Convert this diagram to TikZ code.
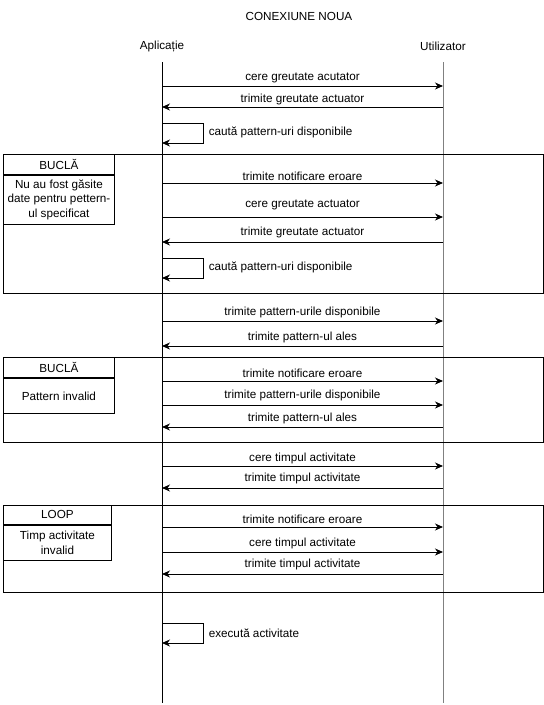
\documentclass[tikz,border=0pt]{standalone}
\usepackage{fontspec}
\setmainfont{Liberation Sans}
\usetikzlibrary{arrows.meta,positioning}

\begin{document}
\begin{tikzpicture}[x=1pt, y=-1pt, line width=0.9pt, font=\fontsize{11.7}{13.5}\selectfont]
      \tikzstyle{msg} = [-{Stealth[length=8pt, width=7pt, inset=2.5pt]}]
      \tikzstyle{tag} = [rectangle, draw, anchor=north west, inner sep=0pt, minimum width=111pt, minimum height=20pt]
      \tikzstyle{cond} = [rectangle, draw, anchor=north west, inner sep=0pt, minimum width=111pt, minimum height=35pt, align=center, font=\fontsize{11.7}{14.5}\selectfont]

      \useasboundingbox (0,0) rectangle (544,705);

      \node (title) at (299,16) {CONEXIUNE NOUA};
      \node (app) at (162,46) {Aplicație};
      \node (user) at (443,46) {Utilizator};
      \draw (app |- 0,62) -- (app |- 0,703);
      \draw[gray] (user |- 0,62) -- (user |- 0,703);

      \draw[msg] (app |- 0,86) -- (user |- 0,86) node[midway, above, yshift=-1pt] {cere greutate acutator};
      \draw[msg] (user |- 0,107) -- (app |- 0,107) node[midway, above, yshift=-2pt] {trimite greutate actuator};
      \draw[msg] (app |- 0,123) -- ++(41,0) |- (app |- 0,143);
      \node[anchor=west] (search1) at (205,132) {caută pattern-uri disponibile};

      % prima bucla
      \draw (3,154) rectangle (543,293);
      \node[tag] (loop1) at (3,154) {BUCLĂ};
      \node[cond, minimum height=49pt] (cond1) at (loop1.south west) {Nu au fost găsite\\date pentru pettern-\\ul specificat};
      \draw[msg] (app |- 0,183) -- (user |- 0,183) node[midway, above, yshift=-1pt] {trimite notificare eroare};
      \draw[msg] (app |- 0,217) -- (user |- 0,217) node[midway, above, yshift=3pt] {cere greutate actuator};
      \draw[msg] (user |- 0,242) -- (app |- 0,242) node[midway, above] {trimite greutate actuator};
      \draw[msg] (app |- 0,258) -- ++(41,0) |- (app |- 0,278);
      \node[anchor=west] (search2) at (205,267) {caută pattern-uri disponibile};

      \draw[msg] (app |- 0,321) -- (user |- 0,321) node[midway, above, yshift=-1pt] {trimite pattern-urile disponibile};
      \draw[msg] (user |- 0,346) -- (app |- 0,346) node[midway, above, yshift=-1pt] {trimite pattern-ul ales};

      % a doua bucla
      \draw (3,357) rectangle (543,442);
      \node[tag] (loop2) at (3,357) {BUCLĂ};
      \node[cond] (cond2) at (loop2.south west) {Pattern invalid};
      \draw[msg] (app |- 0,381) -- (user |- 0,381) node[midway, above] {trimite notificare eroare};
      \draw[msg] (app |- 0,405) -- (user |- 0,405) node[midway, above] {trimite pattern-urile disponibile};
      \draw[msg] (user |- 0,427) -- (app |- 0,427) node[midway, above, yshift=-1pt] {trimite pattern-ul ales};

      \draw[msg] (app |- 0,466) -- (user |- 0,466) node[midway, above, yshift=-2pt] {cere timpul activitate};
      \draw[msg] (user |- 0,488) -- (app |- 0,488) node[midway, above] {trimite timpul activitate};

      % a treia bucla
      \draw (3,505) rectangle (543,592);
      \node[tag, minimum width=108pt, minimum height=19pt] (loop3) at (3,505) {LOOP};
      \node[cond, minimum width=108pt] (cond3) at (loop3.south west) {Timp activitate\\invalid};
      \draw[msg] (app |- 0,527) -- (user |- 0,527) node[midway, above] {trimite notificare eroare};
      \draw[msg] (app |- 0,552) -- (user |- 0,552) node[midway, above, yshift=-1pt] {cere timpul activitate};
      \draw[msg] (user |- 0,574) -- (app |- 0,574) node[midway, above] {trimite timpul activitate};

      \draw[msg] (app |- 0,623) -- ++(41,0) |- (app |- 0,643);
      \node[anchor=west] (run) at (205,633) {execută activitate};
    \end{tikzpicture}
\end{document}
